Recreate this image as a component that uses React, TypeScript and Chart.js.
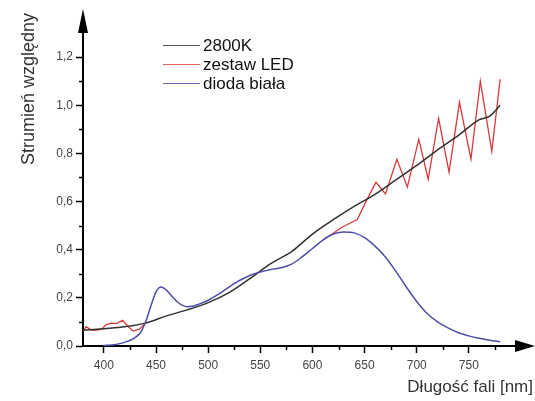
import React, { useEffect, useRef } from "react";
import { Chart, registerables } from "chart.js";

Chart.register(...registerables);

const blackX = [380, 400, 420, 440, 460, 480, 500, 520, 540, 560, 580, 600, 620, 640, 660, 680, 700, 720, 740, 760, 770, 780];
const blackY = [0.065, 0.072, 0.08, 0.095, 0.125, 0.15, 0.18, 0.222, 0.28, 0.342, 0.392, 0.465, 0.525, 0.58, 0.63, 0.69, 0.75, 0.815, 0.875, 0.94, 0.955, 1.0];

const redX = [380, 383, 388, 393, 398, 402, 407, 412, 418, 423, 428, 434, 440, 445, 450, 455, 460, 465, 470, 475, 480, 485, 490, 500, 510, 520, 530, 540, 550, 560, 570, 580, 590, 600, 610, 620, 627, 636, 643, 652, 661, 670, 681, 691, 702, 711, 721, 731, 741, 752, 761, 772, 780];
const redY = [0.062, 0.08, 0.066, 0.066, 0.07, 0.088, 0.095, 0.093, 0.107, 0.082, 0.062, 0.07, 0.095, 0.165, 0.225, 0.245, 0.232, 0.208, 0.185, 0.17, 0.163, 0.165, 0.172, 0.19, 0.215, 0.245, 0.272, 0.293, 0.307, 0.318, 0.325, 0.34, 0.37, 0.405, 0.44, 0.468, 0.49, 0.51, 0.525, 0.606, 0.68, 0.632, 0.776, 0.66, 0.859, 0.693, 0.946, 0.722, 1.012, 0.776, 1.1, 0.809, 1.108];

const blueX = [400, 410, 420, 430, 435, 440, 445, 450, 455, 460, 465, 470, 475, 480, 485, 490, 500, 510, 520, 530, 540, 550, 560, 570, 580, 590, 600, 610, 620, 630, 640, 650, 660, 670, 680, 690, 700, 710, 720, 730, 740, 750, 760, 770, 780];
const blueY = [0.002, 0.005, 0.015, 0.035, 0.055, 0.1, 0.165, 0.225, 0.245, 0.232, 0.208, 0.185, 0.17, 0.163, 0.165, 0.172, 0.19, 0.215, 0.245, 0.272, 0.293, 0.307, 0.318, 0.325, 0.34, 0.37, 0.405, 0.44, 0.465, 0.474, 0.47, 0.45, 0.415, 0.37, 0.31, 0.245, 0.185, 0.135, 0.1, 0.075, 0.055, 0.042, 0.032, 0.024, 0.018];

const seriesLabels = ["2800K", "zestaw LED", "dioda biała"];
const seriesColors = ["#303030", "#d83a3a", "#4e4ea8"];

// range where the LED-set curve lies beneath the white-diode curve
const overlapStart = 440;
const overlapEnd = 610;

const xTicks = [400, 425, 450, 475, 500, 525, 550, 575, 600, 625, 650, 675, 700, 725, 750, 775];
const yTicks = [0, 0.1, 0.2, 0.3, 0.4, 0.5, 0.6, 0.7, 0.8, 0.9, 1.0, 1.1, 1.2];

const xTitle = "Długość fali [nm]";
const yTitle = "Strumień względny";

const FONT = "'Liberation Sans', Arial, sans-serif";

const toXY = (xs: number[], ys: number[]) => xs.map((x, i) => ({ x, y: ys[i] }));

const isMajorX = (v: number) => v % 50 === 0;
const isMajorY = (v: number) => Math.round(v * 10) % 2 === 0;

const decorPlugin = {
  id: "decor",
  afterDraw(chart: any) {
    const { ctx, chartArea, scales } = chart;
    const xs = scales.x;
    const ys = scales.y;
    ctx.save();
    ctx.strokeStyle = "#000";
    ctx.fillStyle = "#000";
    ctx.lineWidth = 1.5;
    xTicks.filter((v) => !isMajorX(v)).forEach((v) => {
      const px = Math.round(xs.getPixelForValue(v)) + 0.5;
      ctx.beginPath();
      ctx.moveTo(px, chartArea.bottom);
      ctx.lineTo(px, chartArea.bottom + 4);
      ctx.stroke();
    });
    yTicks.filter((v) => !isMajorY(v)).forEach((v) => {
      const py = Math.round(ys.getPixelForValue(v)) + 0.5;
      ctx.beginPath();
      ctx.moveTo(chartArea.left, py);
      ctx.lineTo(chartArea.left - 4, py);
      ctx.stroke();
    });
    ctx.lineWidth = 2;
    ctx.beginPath();
    ctx.moveTo(chartArea.right, chartArea.bottom);
    ctx.lineTo(chartArea.right + 6, chartArea.bottom);
    ctx.stroke();
    ctx.beginPath();
    ctx.moveTo(chartArea.right - 6, chartArea.bottom - 6);
    ctx.lineTo(chartArea.right + 14, chartArea.bottom);
    ctx.lineTo(chartArea.right - 6, chartArea.bottom + 6);
    ctx.closePath();
    ctx.fill();
    ctx.beginPath();
    ctx.moveTo(chartArea.left - 5, chartArea.top + 12);
    ctx.lineTo(chartArea.left, chartArea.top - 12);
    ctx.lineTo(chartArea.left + 5, chartArea.top + 12);
    ctx.closePath();
    ctx.fill();
    const ds = chart.data.datasets;
    ctx.textBaseline = "middle";
    ctx.textAlign = "left";
    ctx.font = `17px ${FONT}`;
    ds.forEach((d: any, i: number) => {
      const yy = 45 + i * 19;
      ctx.strokeStyle = d.borderColor;
      ctx.globalAlpha = 0.8;
      ctx.lineWidth = 1.2;
      ctx.beginPath();
      ctx.moveTo(163, yy + 0.5);
      ctx.lineTo(200, yy + 0.5);
      ctx.stroke();
      ctx.globalAlpha = 1;
      ctx.fillStyle = "#111";
      ctx.fillText(d.label, 203, yy + 1);
    });
    ctx.fillStyle = "#333";
    ctx.font = `17px ${FONT}`;
    ctx.textAlign = "right";
    ctx.textBaseline = "alphabetic";
    ctx.fillText(xTitle, 533, 392);
    ctx.save();
    ctx.translate(34, 13);
    ctx.rotate(-Math.PI / 2);
    ctx.font = `18px ${FONT}`;
    ctx.textAlign = "right";
    ctx.textBaseline = "alphabetic";
    ctx.fillText(yTitle, 0, 0);
    ctx.restore();
    ctx.restore();
  },
};

export default function App() {
  const ref = useRef<HTMLCanvasElement | null>(null);
  useEffect(() => {
    if (!ref.current) return;
    const chart = new Chart(ref.current, {
      type: "line",
      data: {
        datasets: [
          {
            label: seriesLabels[0],
            data: toXY(blackX, blackY),
            borderColor: seriesColors[0],
            borderWidth: 1.5,
            pointRadius: 0,
            tension: 0.3,
            cubicInterpolationMode: "monotone",
            order: 2,
          },
          {
            label: seriesLabels[1],
            data: toXY(redX, redY),
            borderColor: seriesColors[1],
            borderWidth: 1.3,
            pointRadius: 0,
            tension: 0,
            order: 3,
            segment: {
              borderColor: (c: any) =>
                c.p0.parsed.x >= overlapStart && c.p1.parsed.x <= overlapEnd ? "rgba(0,0,0,0)" : undefined,
            },
          },
          {
            label: seriesLabels[2],
            data: toXY(blueX, blueY),
            borderColor: seriesColors[2],
            borderWidth: 1.5,
            pointRadius: 0,
            tension: 0.4,
            cubicInterpolationMode: "monotone",
            order: 1,
          },
        ],
      },
      options: {
        animation: false,
        responsive: true,
        maintainAspectRatio: false,
        layout: { padding: { left: 0, top: 21, right: 14, bottom: 0 } },
        plugins: { legend: { display: false }, tooltip: { enabled: false } },
        scales: {
          x: {
            type: "linear",
            min: 380,
            max: 800,
            afterBuildTicks: (s: any) => {
              s.ticks = xTicks.map((v) => ({ value: v }));
            },
            afterFit: (s: any) => {
              s.height = 55;
            },
            ticks: {
              autoSkip: false,
              maxRotation: 0,
              padding: 5,
              color: "#444",
              font: { family: FONT, size: 12 },
              callback: (v: any) => (isMajorX(Number(v)) ? String(v) : ""),
            },
            grid: {
              drawOnChartArea: false,
              drawTicks: true,
              tickLength: 7,
              tickWidth: 1.5,
              tickColor: (c: any) => (c.tick && isMajorX(c.tick.value) ? "#000" : "rgba(0,0,0,0)"),
            },
            border: { display: true, color: "#000", width: 2 },
          },
          y: {
            type: "linear",
            min: 0,
            max: 1.35,
            afterBuildTicks: (s: any) => {
              s.ticks = yTicks.map((v) => ({ value: v }));
            },
            afterFit: (s: any) => {
              s.width = 83;
            },
            ticks: {
              autoSkip: false,
              padding: 3,
              color: "#444",
              font: { family: FONT, size: 12 },
              callback: (v: any) => (isMajorY(Number(v)) ? Number(v).toFixed(1).replace(".", ",") : ""),
            },
            grid: {
              drawOnChartArea: false,
              drawTicks: true,
              tickLength: 7,
              tickWidth: 1.5,
              tickColor: (c: any) => (c.tick && isMajorY(c.tick.value) ? "#000" : "rgba(0,0,0,0)"),
            },
            border: { display: true, color: "#000", width: 2 },
          },
        },
      },
      plugins: [decorPlugin],
    } as any);
    return () => chart.destroy();
  }, []);
  return (
    <div style={{ position: "absolute", left: 0, top: 0, width: 535, height: 401, background: "#fff" }}>
      <canvas ref={ref} />
    </div>
  );
}
